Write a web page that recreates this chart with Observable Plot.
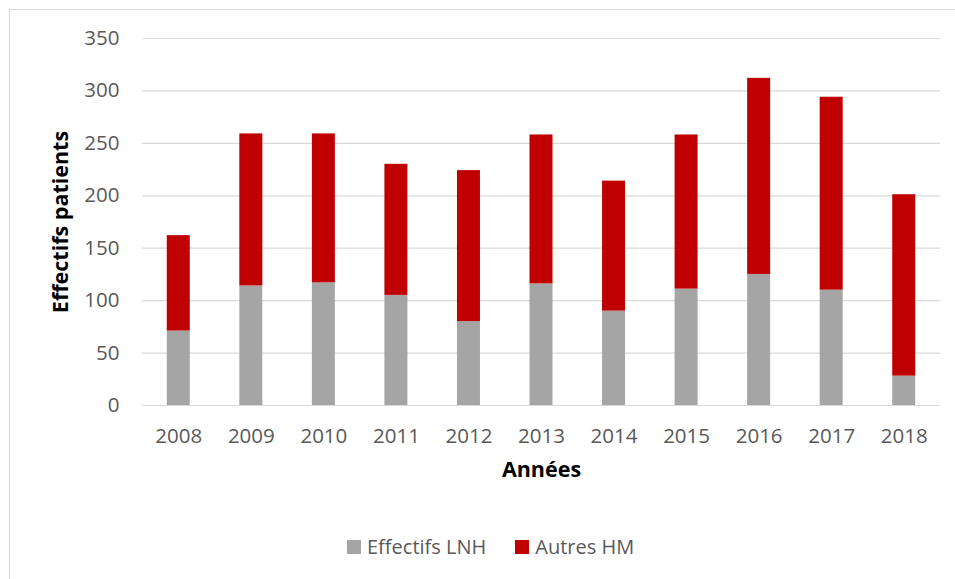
<!DOCTYPE html>
<html>
<head>
<meta charset="utf-8">
<script src="https://cdn.jsdelivr.net/npm/d3@7"></script>
<script src="https://cdn.jsdelivr.net/npm/@observablehq/plot@0.6"></script>
<style>
  html, body { margin: 0; padding: 0; background: #fff; }
  body { width: 955px; height: 579px; overflow: hidden; position: relative; font-family: "Open Sans", sans-serif; }
  #frame { position: absolute; left: 9px; top: 9px; width: 1000px; height: 700px; border: 1px solid #d9d9d9; box-sizing: border-box; }
  #chart { position: absolute; left: 0; top: 0; }
  #legend { position: absolute; left: 347px; top: 533px; display: flex; align-items: center; font-size: 20px; color: #595959; white-space: nowrap; }
  .item { display: flex; align-items: center; margin-right: 29px; }
  .sw { width: 14px; height: 14px; margin-right: 6px; }
</style>
</head>
<body>
<div id="frame"></div>
<div id="chart"></div>
<div id="legend"></div>
<script>
const years = ["2008","2009","2010","2011","2012","2013","2014","2015","2016","2017","2018"];
const effectifsLNH = [71, 114, 117, 105, 80, 116, 90, 111, 125, 110, 28];
const autresHM = [91, 145, 142, 125, 144, 142, 124, 147, 187, 184, 173];
const seriesNames = ["Effectifs LNH", "Autres HM"];
const seriesColors = ["#a5a5a5", "#c00000"];
const yTicks = [0, 50, 100, 150, 200, 250, 300, 350];
const xTitle = "Années";
const yTitle = "Effectifs patients";

const data = years.flatMap((y, i) => [
  {year: y, series: seriesNames[0], value: effectifsLNH[i]},
  {year: y, series: seriesNames[1], value: autresHM[i]}
]);

const chart = Plot.plot({
  width: 955,
  height: 520,
  marginTop: 38,
  marginBottom: 115,
  marginLeft: 142,
  marginRight: 15,
  style: {fontFamily: '"Open Sans", sans-serif', color: "#595959", background: "transparent"},
  x: {domain: years, type: "band", paddingInner: 0.683, paddingOuter: 0.3415, round: false},
  y: {domain: [0, 350]},
  color: {domain: seriesNames, range: seriesColors},
  marks: [
    Plot.gridY(yTicks, {stroke: "#d9d9d9", strokeOpacity: 1, strokeWidth: 1.2}),
    Plot.barY(data, {x: "year", y: "value", fill: "series"}),
    Plot.axisY({ticks: yTicks, tickSize: 0, tickPadding: 23, fontSize: 20.5, label: null}),
    Plot.axisX({tickSize: 0, tickPadding: 23, fontSize: 20.5, label: null}),
    Plot.text([yTitle], {text: d => d, frameAnchor: "left", textAnchor: "middle", dx: -81, rotate: -90, fontWeight: "bold", fontSize: 21.5, fill: "black"}),
    Plot.text([xTitle], {text: d => d, frameAnchor: "bottom", dy: 71, fontWeight: "bold", fontSize: 21.5, fill: "black"})
  ]
});
document.getElementById("chart").appendChild(chart);

const legend = document.getElementById("legend");
seriesNames.forEach((name, i) => {
  const item = document.createElement("div");
  item.className = "item";
  const sw = document.createElement("div");
  sw.className = "sw";
  sw.style.background = seriesColors[i];
  const label = document.createElement("span");
  label.textContent = name;
  item.appendChild(sw);
  item.appendChild(label);
  legend.appendChild(item);
});
</script>
</body>
</html>
